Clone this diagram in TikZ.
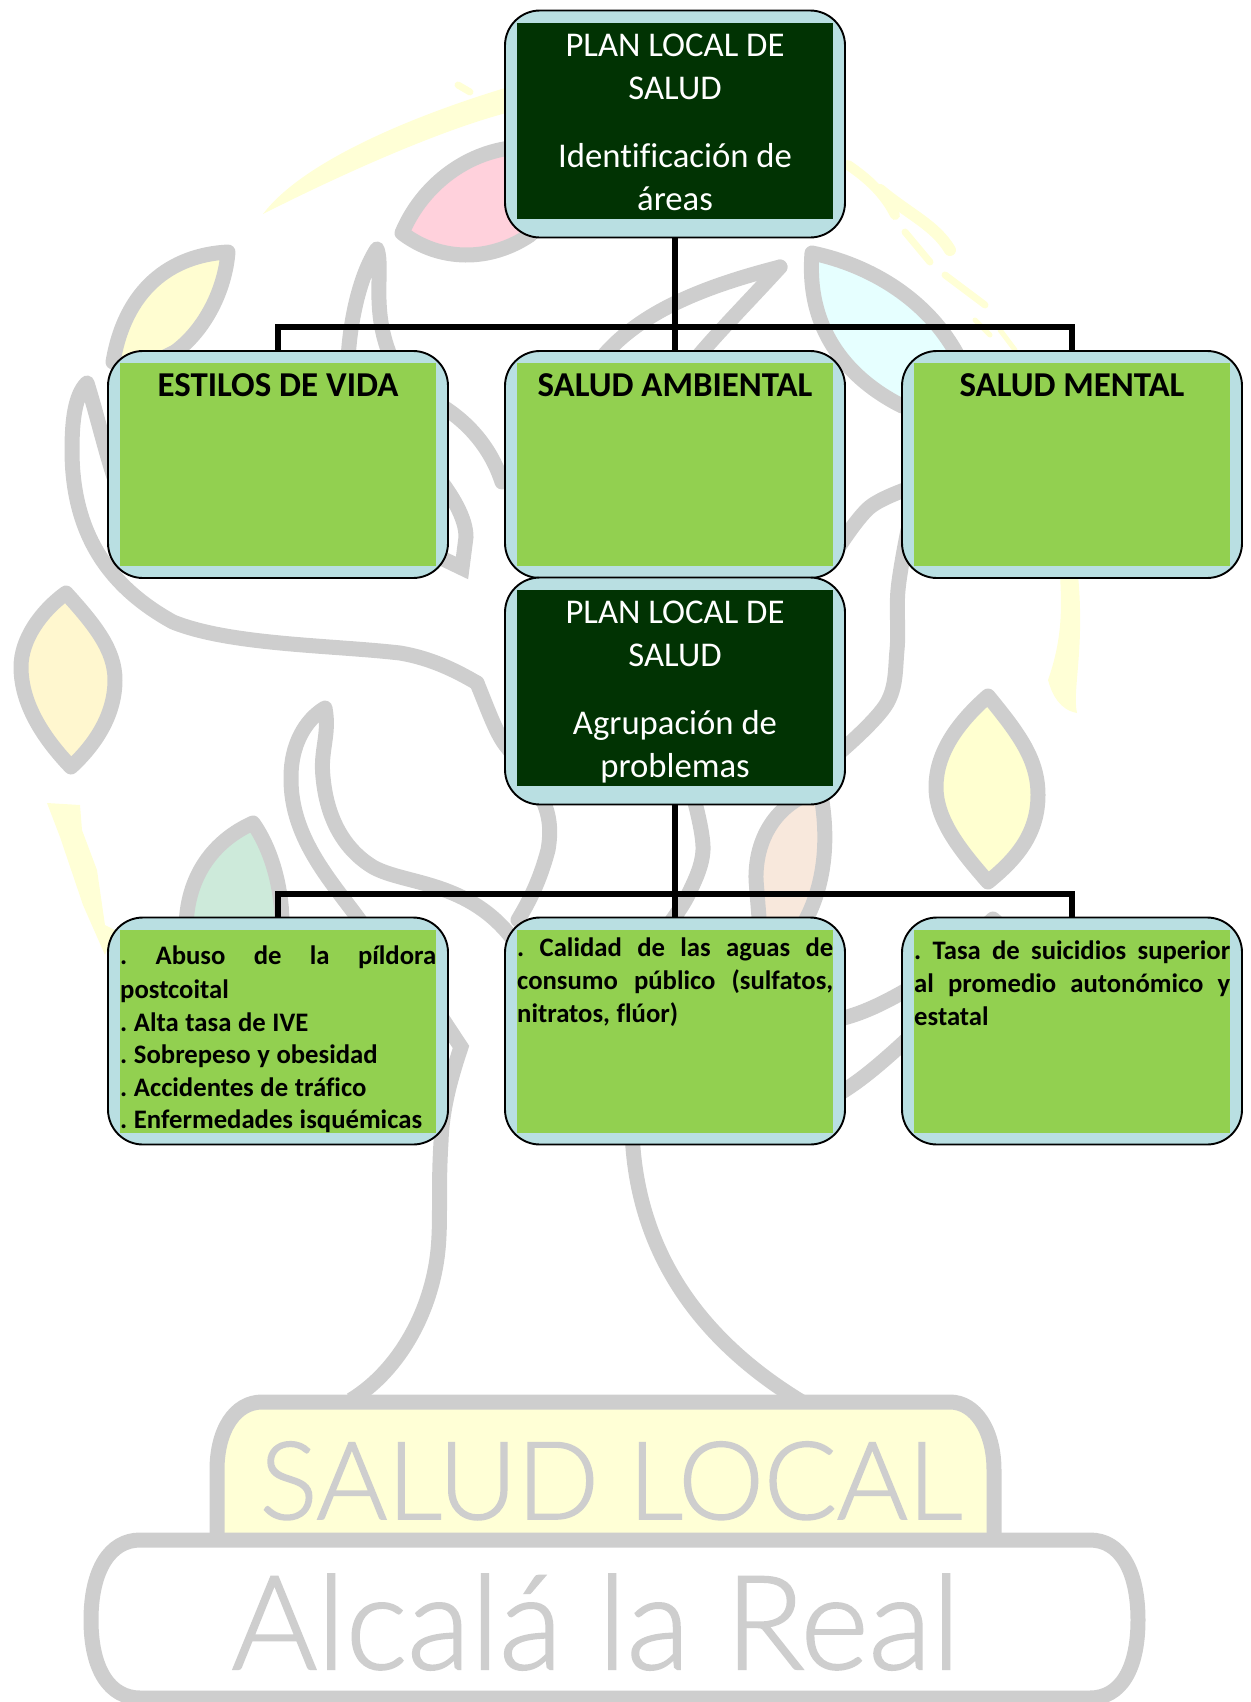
\documentclass[tikz,border=0pt]{standalone}
\usepackage{fontspec}
\setmainfont[Ligatures=NoCommon]{Carlito}
\newfontfamily\logofont[FakeBold=1.5]{Lato Light}
\definecolor{logogray}{HTML}{CECECE}
\definecolor{boxblue}{HTML}{B9DFE2}
\definecolor{darkfill}{HTML}{013303}
\definecolor{greenfill}{HTML}{92D050}
\definecolor{brushyellow}{HTML}{FFFFD6}
\newcommand{\firstrule}{\rule{0pt}{30pt}}
\newcommand{\bodystart}{\spaceskip=6.6pt\relax\firstrule}
\newcommand{\just}[1]{\leavevmode\hbox to 316pt{#1}}
\frenchspacing
\tikzset{
  x=1pt,y=-1pt,
  leafshape/.style={draw=logogray,line width=15pt,line join=round},
  branch/.style={draw=logogray,line width=15pt,line join=round,line cap=round},
  branchcut/.style={draw=logogray,line width=15pt,line join=miter},
  brush/.style={fill=brushyellow,draw=none},
  brushline/.style={draw=brushyellow,line cap=round},
  logotext/.style={text=logogray,inner sep=0pt,anchor=base},
  outerbox/.style={draw=black,line width=1.9pt,fill=boxblue,rounded corners=35pt,minimum width=340pt,minimum height=227pt,inner sep=0pt},
  darkpanel/.style={fill=darkfill,minimum width=316pt,minimum height=196pt,inner sep=0pt},
  greenpanel/.style={fill=greenfill,minimum width=316pt,minimum height=203pt,inner sep=0pt},
  titletext/.style={text=white,align=center,inner sep=0pt,anchor=north,font=\fontsize{34.7}{43}\selectfont},
  headtext/.style={inner sep=0pt,anchor=north,font=\fontsize{34.9}{40}\selectfont\bfseries},
  bodytext/.style={inner sep=0pt,anchor=north west,text width=316pt,align=left,font=\fontsize{26.7}{33}\selectfont\bfseries},
  bodylist/.style={bodytext,font=\fontsize{26.7}{32.5}\selectfont\bfseries},
  bar/.style={draw=black,line width=5.4pt,line join=miter},
}
\begin{document}
\begin{tikzpicture}
\useasboundingbox (0,0) rectangle (1250,1702);
% ---- watermark logo ----
% brush strokes
\fill[brush] (263,214) .. controls (300,165) and (400,120) .. (505,88) -- (510,112) .. controls (440,130) and (340,175) .. cycle;
\draw[brushline,line width=7pt] (458,85) -- (470,92);
\draw[brushline,line width=10pt] (848,165) .. controls (870,180) and (885,195) .. (895,215);
\draw[brushline,line width=12pt] (880,190) .. controls (910,215) and (935,225) .. (950,250);
\draw[brushline,line width=7pt] (905,232) -- (930,262);
\draw[brushline,line width=7pt] (945,275) -- (985,305);
\draw[brushline,line width=5pt] (975,320) -- (990,335);
\draw[brushline,line width=5pt] (1000,330) -- (1015,350);
\fill[brush] (1060,575) .. controls (1062,610) and (1062,640) .. (1048,680) .. controls (1052,695) and (1060,710) .. (1077,713) .. controls (1072,690) and (1085,650) .. (1078,575) -- cycle;
\fill[brush] (47,803) -- (80,805) -- (82,830) -- (97,870) -- (105,925) -- (115,930) -- (105,955) -- (83,905) -- (60,837) -- cycle;
% leaves
\filldraw[leafshape,fill=yellow!18] (228,252) .. controls (170,255) and (125,290) .. (113,362) -- (135,372) -- (175,352) .. controls (205,330) and (225,290) .. cycle;
\filldraw[leafshape,fill={rgb,255:red,255;green,209;blue,220}] (402,233) .. controls (420,190) and (460,155) .. (510,148) -- (560,200) -- (530,235) .. controls (490,262) and (440,262) .. cycle;
\filldraw[leafshape,fill={rgb,255:red,230;green,255;blue,255}] (812,253) .. controls (870,265) and (930,300) .. (960,360) -- (960,410) -- (902,406) .. controls (860,385) and (805,340) .. cycle;
\filldraw[leafshape,fill={rgb,255:red,255;green,247;blue,207}] (66,593) .. controls (95,625) and (115,650) .. (115,680) .. controls (115,715) and (95,745) .. (71,767) .. controls (45,740) and (21,705) .. (21,667) .. controls (21,640) and (40,612) .. cycle;
\filldraw[leafshape,fill={rgb,255:red,255;green,255;blue,208}] (988,696) .. controls (1020,735) and (1038,760) .. (1038,795) .. controls (1038,835) and (1015,860) .. (988,882) .. controls (960,850) and (936,820) .. (936,787) .. controls (936,755) and (955,725) .. cycle;
\filldraw[leafshape,fill={rgb,255:red,205;green,234;blue,218}] (253,823) .. controls (215,840) and (186,875) .. (186,930) -- (282,930) .. controls (283,890) and (272,850) .. cycle;
\filldraw[leafshape,fill={rgb,255:red,248;green,232;blue,220}] (820,790) .. controls (780,800) and (755,835) .. (756,880) -- (760,930) -- (800,930) .. controls (825,890) and (830,840) .. cycle;
% branches
\draw[branch] (115,480) .. controls (105,450) and (97,415) .. (87,383) .. controls (75,395) and (72,420) .. (72,450) .. controls (72,540) and (115,590) .. (173,622) .. controls (230,645) and (330,645) .. (400,653) .. controls (430,658) and (455,670) .. (477,683);
\draw[branch] (477,683) .. controls (490,715) and (497,735) .. (507,747) .. controls (540,790) and (555,810) .. (548,850) .. controls (540,880) and (530,900) .. (518,920);
\draw[branch] (348,360) .. controls (350,320) and (360,275) .. (377,249) .. controls (384,270) and (370,310) .. (392,360);
\draw[branchcut] (440,480) .. controls (455,500) and (466,520) .. (466,537) -- (462,568) -- (435,555);
\draw[branch] (440,405) .. controls (465,420) and (490,445) .. (502,482);
\draw[branch] (600,360) .. controls (640,310) and (710,285) .. (780,267);
\draw[branch] (695,360) .. controls (720,330) and (750,300) .. (780,267);
\draw[branch] plot[smooth,tension=.6] coordinates {(910,488) (870,507) (840,545)};
\draw[branch] plot[smooth,tension=.6] coordinates {(908,530) (898,590) (897,650) (887,703) (840,752)};
\draw[branch] (363,925) .. controls (335,885) and (290,840) .. (291,777) .. controls (291,745) and (305,720) .. (325,708) .. controls (330,735) and (320,750) .. (323,777) .. controls (327,820) and (345,850) .. (373,867) .. controls (405,885) and (470,880) .. (515,942);
\draw[branch] plot[smooth,tension=.6] coordinates {(693,795) (703,850) (688,895) (665,930)};
\draw[branch] (965,945) -- (993,919) -- (1022,945);
\draw[branch] (835,1020) .. controls (860,1015) and (885,1003) .. (915,985);
\draw[branch] (835,1096) .. controls (860,1082) and (885,1060) .. (915,1032);
\draw[branchcut] (430,1000) -- (461,1047) .. controls (450,1080) and (442,1110) .. (441,1142) .. controls (438,1190) and (441,1220) .. (438,1250) .. controls (432,1310) and (400,1370) .. (351,1400);
\draw[branch] (632,1130) .. controls (635,1230) and (680,1330) .. (807,1405);
% logo plates
\filldraw[leafshape,fill=brushyellow] (217,1545) -- (217,1470) .. controls (217,1430) and (235,1402) .. (262,1402) -- (950,1402) .. controls (975,1402) and (994,1430) .. (994,1470) -- (994,1545);
\filldraw[leafshape,fill=white] (91,1620) .. controls (91,1570) and (110,1540) .. (140,1540) -- (1090,1540) .. controls (1120,1540) and (1138,1570) .. (1138,1620) .. controls (1138,1670) and (1120,1698) .. (1090,1698) -- (140,1698) .. controls (110,1698) and (91,1670) .. cycle;
\node[logotext,font=\fontsize{108}{120}\logofont] (saludlogo) at (611,1519) {SALUD LOCAL};
\node[logotext,font=\fontsize{130.5}{140}\logofont] (alcalalogo) at (596,1669) {Alcalá la Real};
% ---- boxes ----
\node[outerbox] (top) at (675,124) {};
\node[outerbox] (lifestyle) at (278,464.5) {};
\node[outerbox] (environment) at (675,464.5) {};
\node[outerbox] (mental) at (1072,464.5) {};
\node[outerbox] (grouping) at (675,691) {};
\node[outerbox] (problemsa) at (278,1031) {};
\node[outerbox] (problemsb) at (675,1031) {};
\node[outerbox] (problemsc) at (1072,1031) {};
% ---- connectors ----
\coordinate (busa) at (675,327);
\coordinate (busb) at (675,894);
\draw[bar] (top.south) -- (busa);
\draw[bar] (lifestyle.north) |- (busa);
\draw[bar] (mental.north) |- (busa);
\draw[bar] (busa) -- (environment.north);
\draw[bar] (grouping.south) -- (busb);
\draw[bar] (problemsa.north) |- (busb);
\draw[bar] (problemsc.north) |- (busb);
\draw[bar] (busb) -- (problemsb.north);
% ---- panels ----
\node[darkpanel] (toppanel) at (675,121) {};
\node[greenpanel] (lifepanel) at (278,464.5) {};
\node[greenpanel] (envpanel) at (675,464.5) {};
\node[greenpanel] (mentpanel) at (1072,464.5) {};
\node[darkpanel] (grouppanel) at (675,688) {};
\node[greenpanel] (apanel) at (278,1031) {};
\node[greenpanel] (bpanel) at (675,1031) {};
\node[greenpanel] (cpanel) at (1072,1031) {};
% ---- texts ----
\node[titletext] (toptext) at (675,26) {\firstrule PLAN LOCAL DE\\SALUD\\[25pt]Identificación de\\áreas};
\node[titletext] (grouptext) at (675,593) {\firstrule PLAN LOCAL DE\\SALUD\\[25pt]Agrupación de\\problemas};
\node[headtext] (lifetext) at (278,366) {\firstrule ESTILOS DE VIDA};
\node[headtext] (envtext) at (675,366) {\firstrule SALUD AMBIENTAL};
\node[headtext] (menttext) at (1072,366) {\firstrule SALUD MENTAL};
\node[bodylist] (atext) at (120,934) {\bodystart\just{.\hfill Abuso\hfill de\hfill la\hfill píldora}\\[2pt]postcoital\\. Alta tasa de IVE\\. Sobrepeso y obesidad\\. Accidentes de tráfico\\. Enfermedades isquémicas};
\node[bodytext] (btext) at (517,926) {\bodystart\just{.\hfill Calidad\hfill de\hfill las\hfill aguas\hfill de}\\\just{consumo\hfill público\hfill (sulfatos,}\\nitratos, flúor)};
\node[bodytext] (ctext) at (914,929) {\bodystart\just{.\hfill Tasa\hfill de\hfill suicidios\hfill superior}\\\just{al\hfill promedio\hfill autonómico\hfill y}\\estatal};
\end{tikzpicture}
\end{document}
